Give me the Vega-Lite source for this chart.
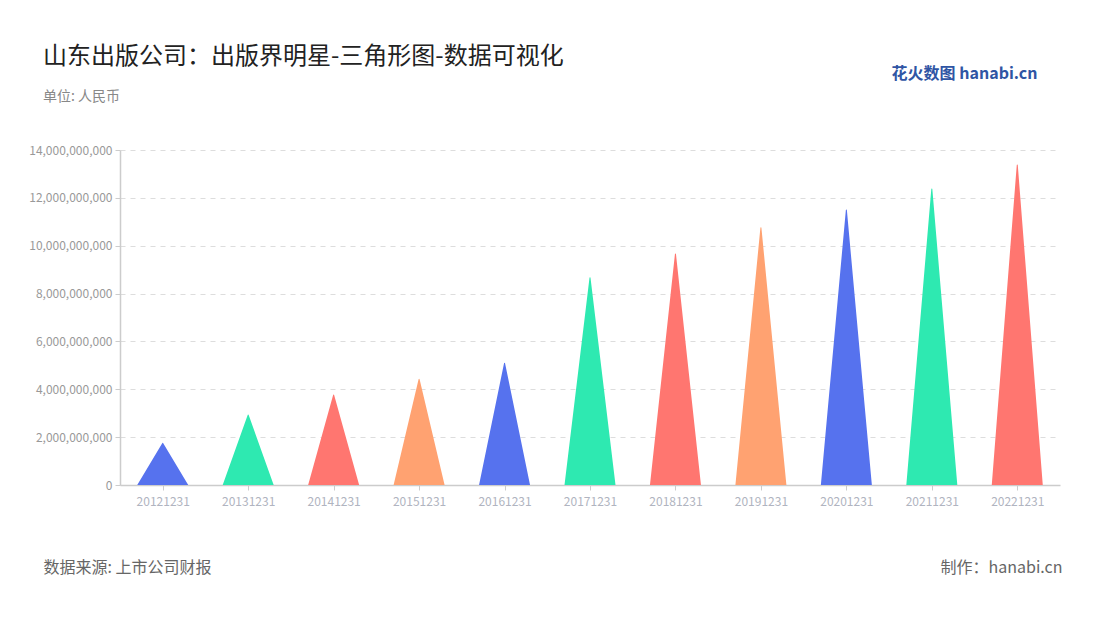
{
  "$schema": "https://vega.github.io/schema/vega-lite/v6.json",
  "width": 940,
  "height": 335,
  "autosize": {"type": "none"},
  "padding": {"left": 120, "top": 150, "right": 40, "bottom": 135},
  "background": "#ffffff",
  "config": {
    "font": "Noto Sans CJK SC",
    "view": {"stroke": null}
  },
  "title": {
    "text": "山东出版公司：出版界明星-三角形图-数据可视化",
    "subtitle": "单位: 人民币",
    "anchor": "start",
    "frame": "group",
    "dx": -77,
    "fontSize": 24,
    "fontWeight": "normal",
    "color": "#222222",
    "subtitleFontSize": 14,
    "subtitleColor": "#888888",
    "subtitlePadding": 21,
    "offset": -39
  },
  "data": {
    "values": [
      {"date": "20121231", "value": 1743000000},
      {"date": "20131231", "value": 2925000000},
      {"date": "20141231", "value": 3760000000},
      {"date": "20151231", "value": 4420000000},
      {"date": "20161231", "value": 5090000000},
      {"date": "20171231", "value": 8660000000},
      {"date": "20181231", "value": 9650000000},
      {"date": "20191231", "value": 10750000000},
      {"date": "20201231", "value": 11490000000},
      {"date": "20211231", "value": 12370000000},
      {"date": "20221231", "value": 13370000000}
    ]
  },
  "resolve": {"axis": {"y": "independent", "x": "independent"}},
  "layer": [
    {
      "transform": [
        {"calculate": "0", "as": "base"},
        {"fold": ["base", "value"], "as": ["k", "v"]}
      ],
      "mark": {"type": "trail", "clip": true},
      "encoding": {
        "x": {
          "field": "date",
          "type": "ordinal",
          "scale": {"type": "point", "padding": 0.5},
          "axis": {
            "labelAngle": 0,
            "labelColor": "#b0b4c0",
            "labelFontSize": 12,
            "labelPadding": 6,
            "domainColor": "#cccccc",
            "domainWidth": 1.5,
            "tickColor": "#cccccc",
            "tickSize": 5,
            "grid": false,
            "title": "数据来源: 上市公司财报",
            "titleX": -77,
            "titleY": 82,
            "titleAlign": "left",
            "titleAnchor": null,
            "titleBaseline": "middle",
            "titleFontSize": 16,
            "titleFontWeight": "normal",
            "titleColor": "#666666"
          }
        },
        "y": {
          "field": "v",
          "type": "quantitative",
          "scale": {"domain": [0, 14000000000], "nice": false},
          "axis": {
            "values": [0, 2000000000, 4000000000, 6000000000, 8000000000, 10000000000, 12000000000, 14000000000],
            "format": ",.0f",
            "labelColor": "#999999",
            "labelFontSize": 12,
            "labelPadding": 3,
            "domainColor": "#cccccc",
            "domainWidth": 1.5,
            "tickColor": "#cccccc",
            "tickSize": 5,
            "grid": true,
            "gridColor": "#dddddd",
            "gridDash": [5, 5],
            "title": "花火数图 hanabi.cn",
            "titleAngle": 0,
            "titleX": 917,
            "titleY": -77,
            "titleAlign": "right",
            "titleBaseline": "middle",
            "titleFontSize": 16,
            "titleFontWeight": "bold",
            "titleColor": "#2f55a4"
          }
        },
        "size": {
          "field": "k",
          "type": "ordinal",
          "scale": {"domain": ["base", "value"], "range": [51, 0]},
          "legend": null
        },
        "order": {"field": "k", "type": "ordinal"},
        "color": {
          "field": "date",
          "type": "nominal",
          "scale": {
            "domain": ["20121231", "20131231", "20141231", "20151231", "20161231", "20171231", "20181231", "20191231", "20201231", "20211231", "20221231"],
            "range": ["#5672ee", "#2ee9b1", "#ff7670", "#ffa271", "#5672ee", "#2ee9b1", "#ff7670", "#ffa271", "#5672ee", "#2ee9b1", "#ff7670"]
          },
          "legend": null
        }
      }
    },
    {
      "mark": {"type": "point", "opacity": 0},
      "encoding": {
        "x": {"field": "date", "type": "ordinal", "axis": null},
        "y": {
          "field": "value",
          "type": "quantitative",
          "axis": {
            "orient": "right",
            "domain": false,
            "labels": false,
            "ticks": false,
            "grid": false,
            "title": "制作：hanabi.cn",
            "titleAngle": 0,
            "titleX": 2,
            "titleY": 417,
            "titleAlign": "right",
            "titleBaseline": "middle",
            "titleFontSize": 16,
            "titleFontWeight": "normal",
            "titleColor": "#666666"
          }
        }
      }
    }
  ]
}
